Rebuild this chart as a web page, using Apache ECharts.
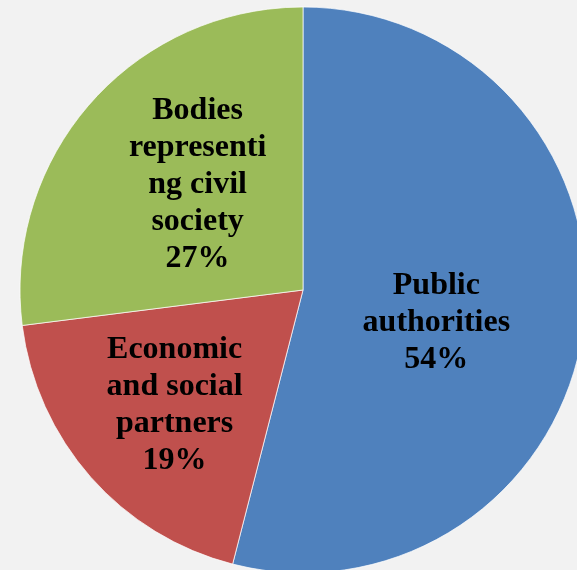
<!DOCTYPE html>
<html>
<head>
<meta charset="utf-8">
<script src="https://cdn.jsdelivr.net/npm/echarts@6/dist/echarts.min.js"></script>
<style>
html,body{margin:0;padding:0;background:#f2f2f2;}
#main{width:577px;height:570px;}
</style>
</head>
<body>
<div id="main"></div>
<script>
var categories = ['Public authorities', 'Economic and social partners', 'Bodies representing civil society'];
var labelTexts = ['Public\nauthorities', 'Economic\nand social\npartners', 'Bodies\nrepresenti\nng civil\nsociety'];
var values = [54, 19, 27];
var colors = ['#4F81BD', '#C0504D', '#9BBB59'];
var labelShift = [[-10, 15], [-20, 20], [3, -10]];

var chart = echarts.init(document.getElementById('main'), null, {renderer: 'canvas'});
var data = categories.map(function (c, i) {
  return {name: c, value: values[i], itemStyle: {color: colors[i]}};
});
chart.setOption({
  backgroundColor: '#f2f2f2',
  animation: false,
  series: [{
    type: 'pie',
    center: [303, 290],
    radius: [0, 283],
    startAngle: 90,
    clockwise: true,
    data: data,
    itemStyle: {borderColor: 'rgba(255,255,255,0.7)', borderWidth: 1},
    label: {
      show: true,
      position: 'inside',
      formatter: function (p) { return labelTexts[p.dataIndex] + '\n' + p.value + '%'; },
      fontFamily: 'Liberation Serif',
      fontWeight: 'bold',
      fontSize: 32,
      lineHeight: 37,
      color: '#000',
      align: 'center'
    },
    labelLayout: function (p) {
      return {dx: labelShift[p.dataIndex][0], dy: labelShift[p.dataIndex][1]};
    },
    emphasis: {disabled: true}
  }]
});
</script>
</body>
</html>
